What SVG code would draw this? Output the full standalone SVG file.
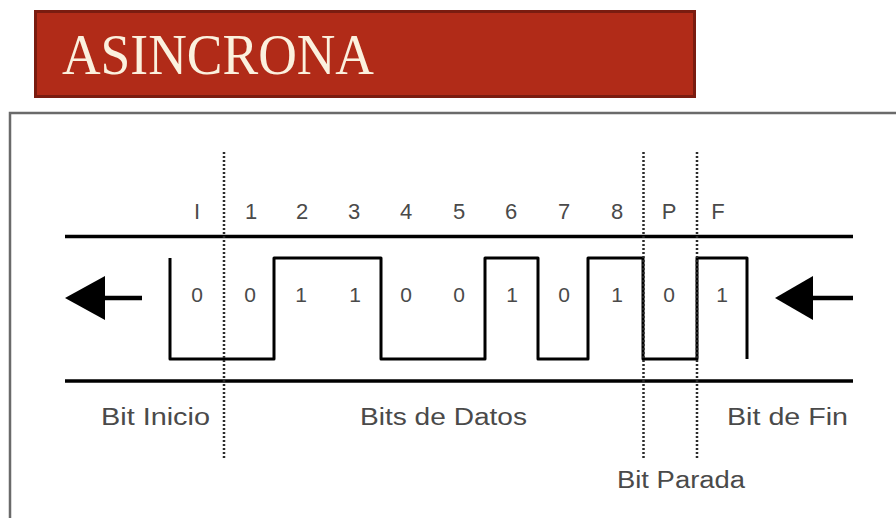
<svg xmlns="http://www.w3.org/2000/svg" width="896" height="518" viewBox="0 0 896 518">
<style>
.lbl{font-family:"Liberation Sans",Arial,sans-serif;fill:#4a4a4a;text-anchor:middle}
.num{font-size:22px}
.bit{font-size:21px}
.cap{font-size:23px;text-anchor:start}
.rail{stroke:#000;stroke-width:3.5;fill:none}
.dot{stroke:#2a2a2a;stroke-width:2.5;stroke-dasharray:2 2;fill:none}
</style>
<rect width="896" height="518" fill="#fff"/>
<g id="title">
<rect x="35.5" y="11.5" width="659" height="85" fill="#b12b18" stroke="#7a1c10" stroke-width="3"/>
<text x="62" y="74" font-family="'Liberation Serif','Times New Roman',serif" font-size="57" fill="#fbf1de" textLength="312" lengthAdjust="spacingAndGlyphs">ASINCRONA</text>
</g>
<g id="frame">
<rect x="10" y="113" width="900" height="420" fill="none" stroke="#6a6a6a" stroke-width="2.5"/>
</g>
<g id="connectors">
<line class="rail" x1="65" y1="236.5" x2="853" y2="236.5"/>
<line class="rail" x1="65" y1="381" x2="853" y2="381"/>
<path d="M170,258 V359 H274 V258 H381 V359 H485 V258 H538 V359 H588 V258 H643 V359 H697 V258 H747 V359" fill="none" stroke="#000" stroke-width="3" stroke-linejoin="round"/>
<line class="dot" x1="224" y1="152" x2="224" y2="458"/>
<line class="dot" x1="643.5" y1="152" x2="643.5" y2="458"/>
<line class="dot" x1="697" y1="152" x2="697" y2="458"/>
</g>
<g id="arrow-left">
<line x1="100" y1="298" x2="142" y2="298" stroke="#000" stroke-width="4.5"/>
<polygon points="65,298 105,276 105,320" fill="#000"/>
</g>
<g id="arrow-right">
<line x1="808" y1="298" x2="853" y2="298" stroke="#000" stroke-width="4.5"/>
<polygon points="775,298 813,276 813,320" fill="#000"/>
</g>
<g id="bit-numbers" class="lbl num">
<text x="197" y="219">I</text>
<text x="251" y="219">1</text>
<text x="302" y="219">2</text>
<text x="354" y="219">3</text>
<text x="406" y="219">4</text>
<text x="459" y="219">5</text>
<text x="511" y="219">6</text>
<text x="564" y="219">7</text>
<text x="617" y="219">8</text>
<text x="669" y="219">P</text>
<text x="718" y="219">F</text>
</g>
<g id="bit-values" class="lbl bit">
<text x="197" y="302">0</text>
<text x="250" y="302">0</text>
<text x="301" y="302">1</text>
<text x="355" y="302">1</text>
<text x="406" y="302">0</text>
<text x="459" y="302">0</text>
<text x="512" y="302">1</text>
<text x="564" y="302">0</text>
<text x="617" y="302">1</text>
<text x="669" y="302">0</text>
<text x="722" y="302">1</text>
</g>
<g id="label-inicio" class="lbl cap"><text x="101" y="425" textLength="109" lengthAdjust="spacingAndGlyphs">Bit Inicio</text></g>
<g id="label-datos" class="lbl cap"><text x="360" y="425" textLength="167" lengthAdjust="spacingAndGlyphs">Bits de Datos</text></g>
<g id="label-fin" class="lbl cap"><text x="727" y="425" textLength="121" lengthAdjust="spacingAndGlyphs">Bit de Fin</text></g>
<g id="label-parada" class="lbl cap"><text x="617" y="488" textLength="128" lengthAdjust="spacingAndGlyphs">Bit Parada</text></g>
</svg>
